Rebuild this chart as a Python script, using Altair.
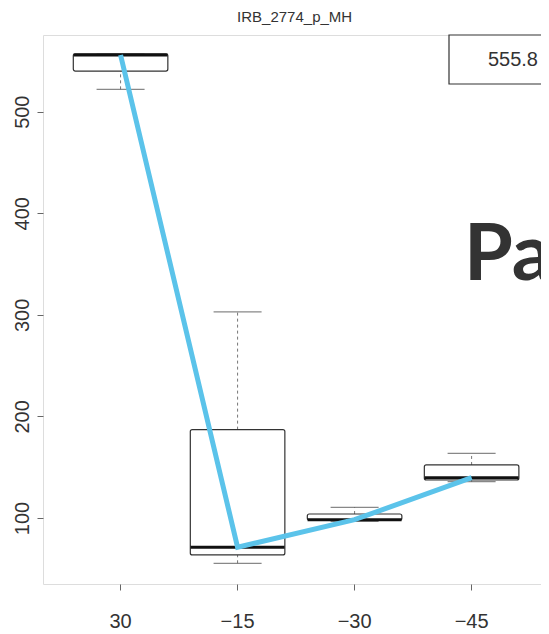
import altair as alt
import pandas as pd

# values
groups = ["30", "-15", "-30", "-45"]
upper_whisker = [557, 303, 110.5, 163.7]
q3 = [557, 187, 103.9, 152.2]
median = [555.8, 71.2, 98.3, 139.7]
q1 = [540, 63.6, 98, 137.4]
lower_whisker = [522, 55.4, 96.6, 135.7]
y_ticks = [100, 200, 300, 400, 500]
title_text = "IRB_2774_p_MH"
legend_text = "555.8"
overlay_text = "Pa"

df = pd.DataFrame({
    "group": groups,
    "uw": upper_whisker,
    "q3": q3,
    "med": median,
    "q1": q1,
    "lw": lower_whisker,
})

FONT = "Liberation Sans"
W, H = 498, 549

x = alt.X("group:N", sort=groups, title=None,
          scale=alt.Scale(paddingInner=0.192, paddingOuter=0.224, align=0.578),
          axis=alt.Axis(labelAngle=0, labelFontSize=20, labelColor="#333",
                        labelFont=FONT, tickSize=6, tickColor="#666",
                        labelPadding=21, domain=False, grid=False,
                        labelExpr="replace(datum.label, '-', '\u2212')"))
yscale = alt.Scale(domain=[35, 575.5], nice=False, zero=False)
yaxis = alt.Axis(values=y_ticks, labelAngle=270, labelAlign="center",
                 labelBaseline="alphabetic", labelFontSize=20, labelColor="#333",
                 labelFont=FONT, tickSize=6, tickColor="#666", labelPadding=9,
                 domain=False, grid=False)

base = alt.Chart(df)

whisk_up = base.mark_rule(color="#777", strokeDash=[3, 3], strokeWidth=1).encode(
    x=x, y=alt.Y("q3:Q", scale=yscale, axis=yaxis, title=None), y2="uw:Q")
whisk_lo = base.mark_rule(color="#777", strokeDash=[3, 3], strokeWidth=1).encode(
    x=x, y=alt.Y("lw:Q", scale=yscale), y2="q1:Q")
cap_up = base.mark_tick(color="#555", size=48, thickness=1.2).encode(
    x=x, y=alt.Y("uw:Q", scale=yscale))
cap_lo = base.mark_tick(color="#555", size=48, thickness=1.2).encode(
    x=x, y=alt.Y("lw:Q", scale=yscale))
box = base.mark_bar(fill="white", stroke="#333", strokeWidth=1.2,
                    cornerRadius=2).encode(
    x=x, y=alt.Y("q1:Q", scale=yscale), y2="q3:Q")
med = base.mark_tick(color="#111", size=94, thickness=3, opacity=1).encode(
    x=x, y=alt.Y("med:Q", scale=yscale))
line = base.mark_line(color="#5BC3EA", strokeWidth=5).encode(
    x=x, y=alt.Y("med:Q", scale=yscale))

ann = alt.Chart(pd.DataFrame({"t": [title_text], "l": [legend_text],
                              "p": [overlay_text]}))
title = ann.mark_text(fontSize=15, color="#333", font=FONT, align="center",
                      baseline="middle").encode(
    x=alt.value(251.6), y=alt.value(-18.5), text="t:N")
legend_box = ann.mark_rect(fill="white", stroke="#333", strokeWidth=1.2).encode(
    x=alt.value(406), x2=alt.value(W + 2), y=alt.value(0), y2=alt.value(49))
legend_label = ann.mark_text(fontSize=20, color="#333", font=FONT, align="right",
                             baseline="middle").encode(
    x=alt.value(495), y=alt.value(25), text="l:N")
pa = ann.mark_text(fontSize=79, color="#333", font="Lato", fontWeight="bold",
                   align="left", baseline="alphabetic").encode(
    x=alt.value(421), y=alt.value(245), text="p:N")

chart = alt.layer(whisk_up, whisk_lo, cap_up, cap_lo, box, med, line,
                  title, legend_box, legend_label, pa).properties(
    width=W, height=H,
    autosize=alt.AutoSizeParams(type="none"),
    padding={"left": 35, "top": 27, "right": 0, "bottom": 50},
).configure_view(stroke="#666", strokeWidth=1.5).configure(background="white")

chart.save("out.html", embed_options={"renderer": "svg", "actions": False})
